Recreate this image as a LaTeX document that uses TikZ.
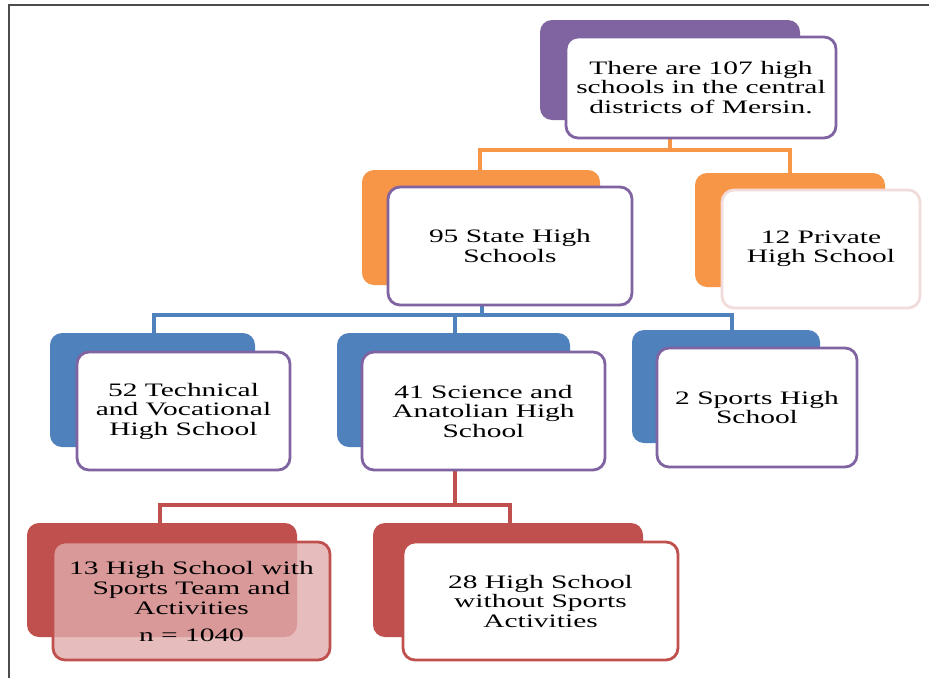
\documentclass[tikz,border=0pt]{standalone}
\usepackage{fontspec}
\setmainfont{Liberation Serif}[FakeStretch=1.55]
\definecolor{cpurple}{RGB}{128,100,162}
\definecolor{corange}{RGB}{247,150,70}
\definecolor{cblue}{RGB}{79,129,189}
\definecolor{cred}{RGB}{192,80,77}
\definecolor{cpink}{RGB}{242,220,219}
\definecolor{cpinkfill}{RGB}{225,172,172}
\begin{document}
\begin{tikzpicture}[x=1pt,y=-1pt,
  backbox/.style={rectangle, rounded corners=12pt, inner sep=0pt, draw=none},
  frontbox/.style={rectangle, rounded corners=12pt, inner sep=0pt, fill=white,
     draw=cpurple, line width=2.8pt, align=center, text=black,
     font=\fontsize{19}{19.5}\selectfont},
  conn/.style={line width=3.6pt}]
\useasboundingbox (0,0) rectangle (929,678);
\fill[white] (0,0) rectangle (929,678);
\draw[line width=1.5pt, black!70] (9,678) -- (9,5) -- (929,5);

% junction coordinates
\coordinate (oT) at (670,150);
\coordinate (oL) at (480,150);
\coordinate (oR) at (790,150);
\coordinate (bT) at (482,315);
\coordinate (bL) at (154,315);
\coordinate (bM) at (455,315);
\coordinate (bR) at (732,315);
\coordinate (rT) at (455,505);
\coordinate (rL) at (160,505);
\coordinate (rR) at (510,505);

% back boxes
\node[backbox, fill=cpurple, minimum width=260, minimum height=100] (topB) at (670,70) {};
\node[backbox, fill=corange, minimum width=238, minimum height=115] (stateB) at (481,227.5) {};
\node[backbox, fill=corange, minimum width=190, minimum height=114] (privB) at (790,230) {};
\node[backbox, fill=cblue, minimum width=205, minimum height=114] (techB) at (152.5,390) {};
\node[backbox, fill=cblue, minimum width=233, minimum height=114] (sciB) at (453.5,390) {};
\node[backbox, fill=cblue, minimum width=188, minimum height=113] (sportB) at (726,386.5) {};
\node[backbox, fill=cred, minimum width=270, minimum height=114] (withB) at (162,580) {};
\node[backbox, fill=cred, minimum width=270, minimum height=114] (woB) at (508,580) {};

% connectors
\draw[conn, corange] (topB.south) -- (oT);
\draw[conn, corange, line cap=rect] (oL) -- (oR);
\draw[conn, corange] (oL) -- (oL |- stateB.north);
\draw[conn, corange] (oR) -- (oR |- privB.north);
\draw[conn, cblue] (stateB.south -| bT) -- (bT);
\draw[conn, cblue, line cap=rect] (bL) -- (bR);
\draw[conn, cblue] (bL) -- (bL |- techB.north);
\draw[conn, cblue] (bM) -- (bM |- sciB.north);
\draw[conn, cblue] (bR) -- (bR |- sportB.north);
\draw[conn, cred] (sciB.south -| rT) -- (rT);
\draw[conn, cred, line cap=rect] (rL) -- (rR);
\draw[conn, cred] (rL) -- (rL |- withB.north);
\draw[conn, cred] (rR) -- (rR |- woB.north);

% front boxes
\node[frontbox, minimum width=270, minimum height=101] (top) at (701,87.5)
  {There are 107 high\\schools in the central\\districts of Mersin.};
\node[frontbox, minimum width=244, minimum height=118] (state) at (510,246)
  {95 State High\\Schools};
\node[frontbox, draw=cpink, minimum width=198, minimum height=118] (priv) at (821,249)
  {12 Private\\High School};
\node[frontbox, minimum width=213, minimum height=118] (tech) at (183.5,411)
  {52 Technical\\and Vocational\\High School};
\node[frontbox, minimum width=243, minimum height=118] (sci) at (483.5,411)
  {41 Science and\\Anatolian High\\School};
\node[frontbox, minimum width=200, minimum height=119] (sport) at (757,407.5)
  {2 Sports High\\School};
\node[frontbox, draw=cred, fill=cpinkfill, fill opacity=0.8, text opacity=1,
  minimum width=277, minimum height=118, font=\fontsize{19}{20}\selectfont] (with) at (191.5,601)
  {13 High School with\\Sports Team and\\Activities\\[7pt]n = 1040};
\node[frontbox, draw=cred, minimum width=275, minimum height=118] (wo) at (540.5,601)
  {28 High School\\without Sports\\Activities};
\end{tikzpicture}
\end{document}
